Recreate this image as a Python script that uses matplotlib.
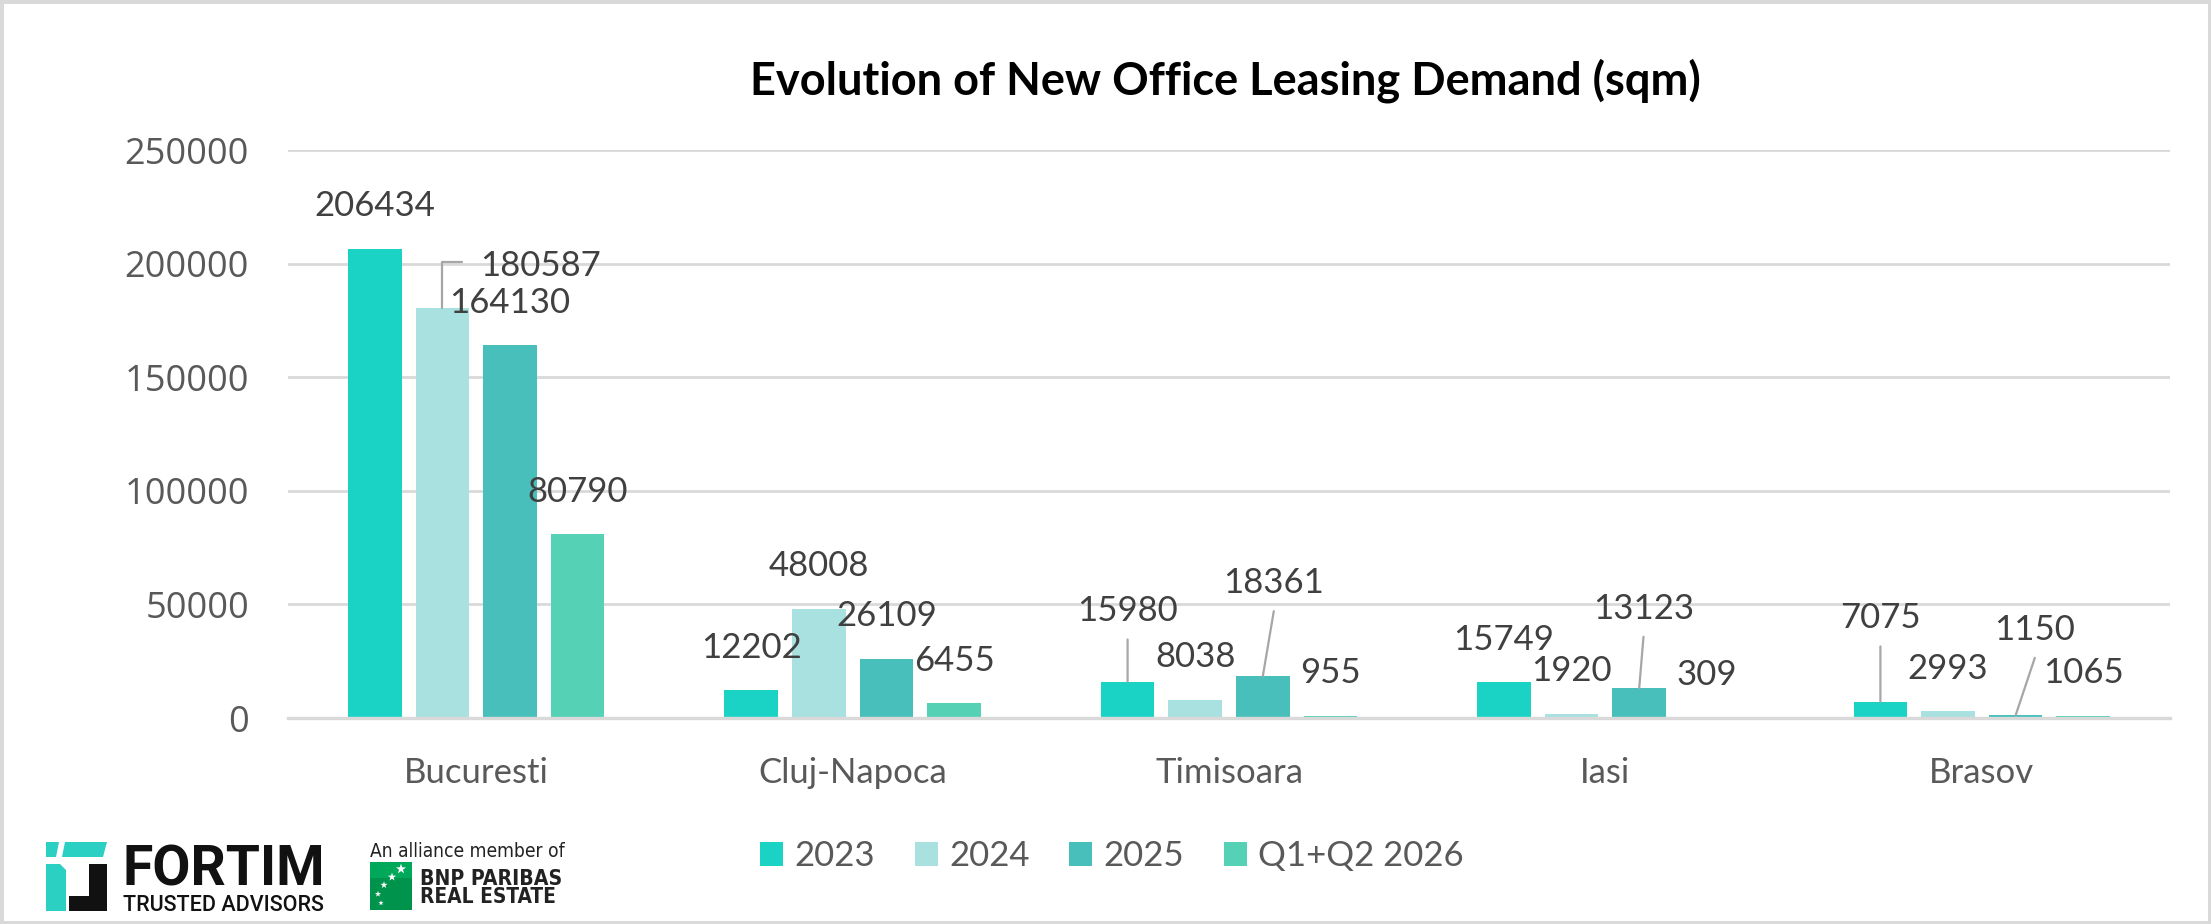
import matplotlib
matplotlib.use('Agg')
import matplotlib.pyplot as plt
import numpy as np
from matplotlib.patches import Rectangle, Polygon

# ---------------- data ----------------
categories = ['Bucuresti', 'Cluj-Napoca', 'Timisoara', 'Iasi', 'Brasov']
series_names = ['2023', '2024', '2025', 'Q1+Q2 2026']
values_2023 = [206434, 12202, 15980, 15749, 7075]
values_2024 = [180587, 48008, 8038, 1920, 2993]
values_2025 = [164130, 26109, 18361, 13123, 1150]
values_q1q2_2026 = [80790, 6455, 955, 309, 1065]
y_ticks = [0, 50000, 100000, 150000, 200000, 250000]
title = 'Evolution of New Office Leasing Demand (sqm)'

# ---------------- style ----------------
colors = ['#1BD3C5', '#A9E0E0', '#48BFBB', '#55D1B5']
W, H, DPI = 2211, 924, 100
GRID = '#D9D9D9'
LABEL_C = '#404040'
AXIS_C = '#595959'
LEADER_C = '#A6A6A6'
PT = 72.0 / DPI  # px -> pt

# label placement (pixels above bar top of the digit centre, x shift); default (0, 45)
label_pos = {(0, 1): (98.6, 44.5), (2, 0): (0, 72.7), (2, 2): (11, 95.6),
             (3, 2): (4.3, 81.9), (4, 0): (0, 86), (4, 2): (19.2, 88)}
straight_leaders = [(2, 0), (2, 2), (3, 2), (4, 0), (4, 2)]
elbow_leaders = {(0, 1): (20, 46)}

series = [values_2023, values_2024, values_2025, values_q1q2_2026]

fig = plt.figure(figsize=(W / DPI, H / DPI), dpi=DPI)
fig.patch.set_facecolor('white')
ax = fig.add_axes([288 / W, 206 / H, 1882 / W, 568 / H])

x = np.arange(len(categories))
step, bw = 0.1796, 0.1424
for i, (name, vals) in enumerate(zip(series_names, series)):
    ax.bar(x + (i - 1.5) * step, vals, width=bw, color=colors[i], label=name, zorder=2)

ax.set_xlim(-0.5, len(categories) - 0.5)
ax.set_ylim(y_ticks[0], y_ticks[-1])
ax.set_yticks(y_ticks)
ax.set_yticklabels([str(t) for t in y_ticks], fontfamily='Open Sans', fontsize=26, color=AXIS_C)
ax.set_xticks(x)
ax.set_xticklabels(categories, fontfamily='Lato', fontsize=25, color=AXIS_C)
ax.tick_params(axis='both', length=0)
ax.tick_params(axis='y', pad=28)
ax.tick_params(axis='x', pad=28)
ax.yaxis.grid(True, color=GRID, lw=2)
ax.set_axisbelow(True)
for s in ['top', 'right', 'left']:
    ax.spines[s].set_visible(False)
ax.spines['bottom'].set_color(GRID)
ax.spines['bottom'].set_linewidth(2.4)

# data labels
for i, vals in enumerate(series):
    for c, v in enumerate(vals):
        bx = x[c] + (i - 1.5) * step
        dx, dy = label_pos.get((c, i), (0, 45))
        ax.annotate(str(v), xy=(bx, v), xytext=(dx * PT, (dy - 12.5) * PT),
                    textcoords='offset points', ha='center', va='baseline',
                    fontfamily='Lato', fontsize=25, color=LABEL_C, zorder=5)
        if (c, i) in straight_leaders:
            ax.annotate('', xy=(bx, v), xytext=(dx * PT, (dy - 30.5) * PT),
                        textcoords='offset points',
                        arrowprops=dict(arrowstyle='-', color=LEADER_C, lw=1.6,
                                        shrinkA=0, shrinkB=0), zorder=4)
        if (c, i) in elbow_leaders:
            ex, ey = elbow_leaders[(c, i)]
            ax.annotate('', xy=(bx, v), xytext=(ex * PT, ey * PT),
                        textcoords='offset points',
                        arrowprops=dict(arrowstyle='-', color=LEADER_C, lw=1.6,
                                        shrinkA=0, shrinkB=0,
                                        connectionstyle='angle,angleA=0,angleB=90,rad=0'),
                        zorder=4)

# title
fig.text(1225 / W, 1 - 94.5 / H, title, ha='center', va='baseline',
         fontfamily='Lato', fontweight='bold', fontsize=32.5, color='black')

# legend
fig.legend(loc='center', bbox_to_anchor=(1112 / W, 1 - 856 / H), ncol=4, frameon=False,
           prop={'family': 'Lato', 'size': 25}, labelcolor=AXIS_C,
           handlelength=0.66, handleheight=0.66, handletextpad=0.32,
           columnspacing=1.15, borderaxespad=0, borderpad=0)

# ---------------- logos (overlay in pixel coordinates) ----------------
ov = fig.add_axes([0, 0, 1, 1], zorder=10)
ov.set_xlim(0, W)
ov.set_ylim(H, 0)
ov.axis('off')
ov.patch.set_alpha(0)

def rect(x0, y0, x1, y1, color):
    ov.add_patch(Rectangle((x0, y0), x1 - x0, y1 - y0, color=color, lw=0))

def poly(pts, color):
    ov.add_patch(Polygon(pts, closed=True, color=color, lw=0))

TEAL = '#2BD0C3'
poly([(46, 842), (59, 842), (56, 857), (46, 857)], TEAL)
poly([(65, 842), (107, 842), (103, 857), (62, 857)], TEAL)
poly([(46, 864), (60, 864), (66, 870), (66, 911), (46, 911)], TEAL)
rect(89, 864, 107, 911, '#111111')
rect(69, 896, 107, 911, '#111111')

renderer = fig.canvas.get_renderer()

def fit_text(xpx, ybase, s, target_w, fs, **kw):
    t = ov.text(xpx, ybase, s, ha='left', va='baseline', fontsize=fs, **kw)
    bb = t.get_window_extent(renderer)
    t.set_fontsize(fs * target_w / bb.width)
    return t

fit_text(123, 885, 'FORTIM', 202, 40, fontfamily='Roboto', fontweight='bold', color='#111111')
fit_text(123, 911, 'TRUSTED ADVISORS', 202, 15, fontfamily='Roboto', fontweight='medium', color='#111111')

# BNP logo
rect(370, 862, 412, 910, '#00934C')
rect(370, 862, 412, 878, '#00A85A')
star_x = [401, 392, 384, 378, 381]
star_y = [869, 877, 885, 894, 903]
star_s = [60, 40, 30, 22, 16]
ov.scatter(star_x, star_y, s=star_s, marker='*', color='white', linewidths=0, zorder=3)
fit_text(370, 857, 'An alliance member of', 194, 12, fontfamily='DejaVu Sans',
         fontstretch='condensed', color='#222222')
fit_text(420, 885, 'BNP PARIBAS', 143, 14, fontfamily='DejaVu Sans', fontweight='bold',
         fontstretch='condensed', color='#222222')
fit_text(420, 903, 'REAL ESTATE', 136, 13, fontfamily='DejaVu Sans', fontweight='bold',
         fontstretch='condensed', color='#222222')

# outer frame
fig.patches.append(Rectangle((0, 0), 1, 1, transform=fig.transFigure, fill=False,
                             edgecolor=GRID, lw=5))

fig.savefig('out.png', dpi=DPI, facecolor='white')
